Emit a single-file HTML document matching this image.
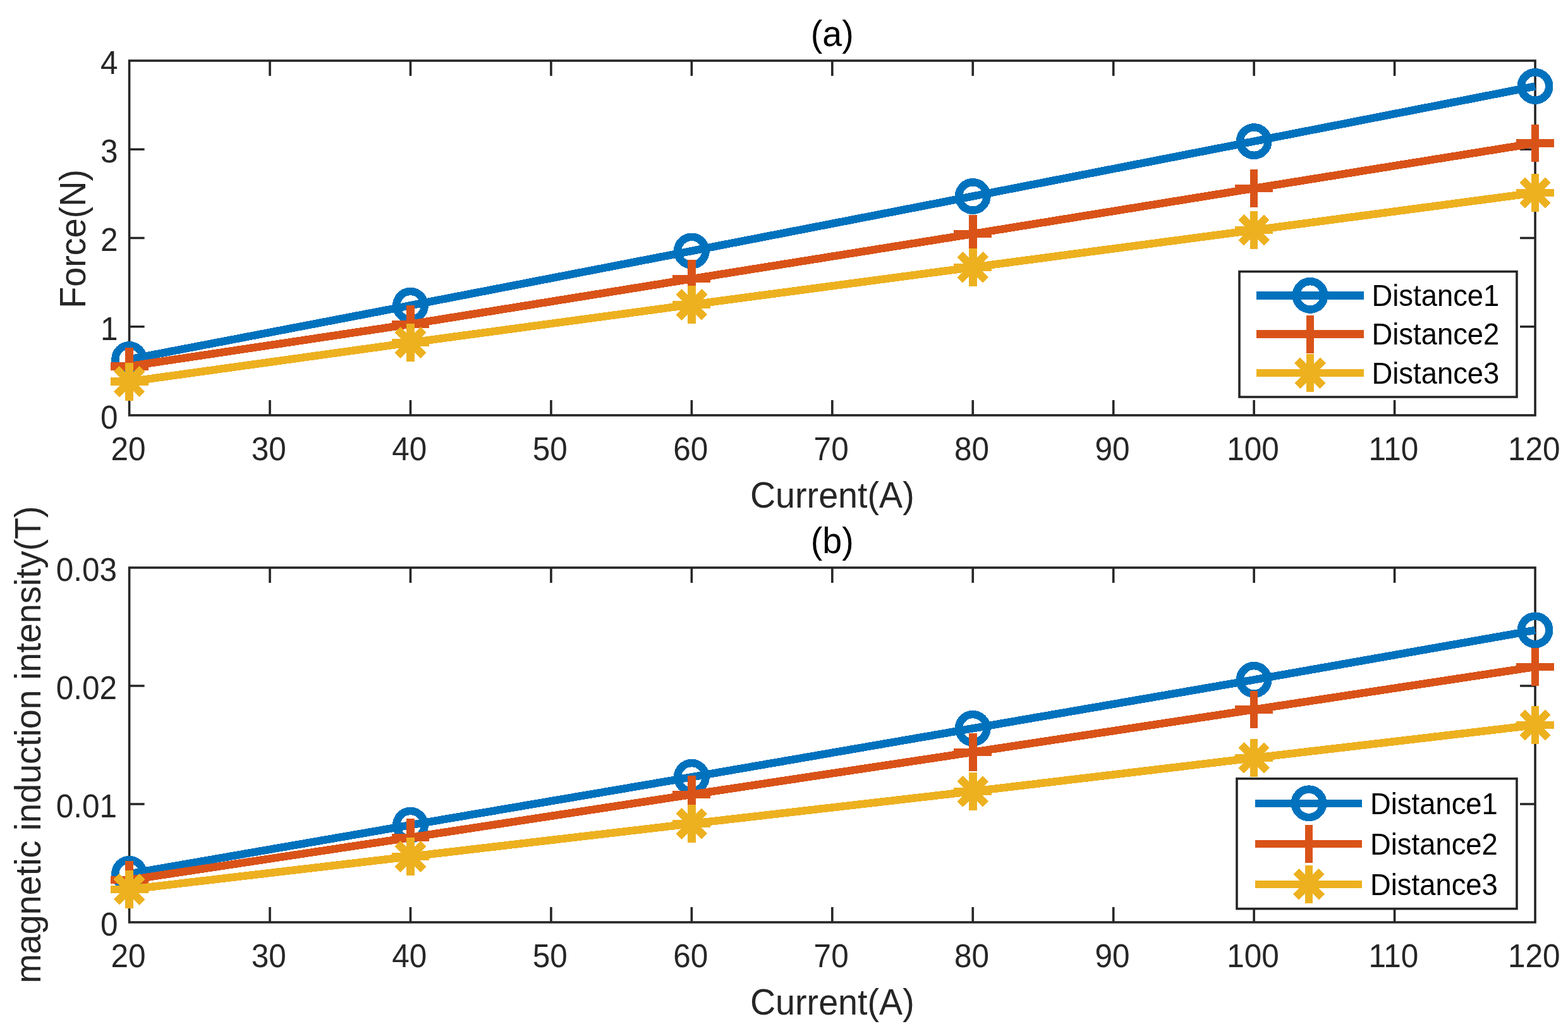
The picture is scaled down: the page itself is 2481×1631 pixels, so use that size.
<!DOCTYPE html>
<html><head><meta charset="utf-8"><title>Force and magnetic induction vs current</title>
<style>html,body{margin:0;padding:0;background:#fff}svg{display:block}</style></head>
<body>
<svg width="2481" height="1631" viewBox="0 0 2481 1631">
<rect width="2481" height="1631" fill="#fff"/>
<g font-family="'Liberation Sans', Arial, Helvetica, sans-serif">
<rect x="204.6" y="96" width="2224.45" height="560.95" fill="none" stroke="#262626" stroke-width="3.6"/>
<path d="M427.05 656.95V632.95M427.05 96V120M649.49 656.95V632.95M649.49 96V120M871.94 656.95V632.95M871.94 96V120M1094.38 656.95V632.95M1094.38 96V120M1316.83 656.95V632.95M1316.83 96V120M1539.27 656.95V632.95M1539.27 96V120M1761.72 656.95V632.95M1761.72 96V120M1984.16 656.95V632.95M1984.16 96V120M2206.61 656.95V632.95M2206.61 96V120M204.6 516.71H228.6M2429.05 516.71H2405.05M204.6 376.48H228.6M2429.05 376.48H2405.05M204.6 236.24H228.6M2429.05 236.24H2405.05" stroke="#262626" stroke-width="3.6" fill="none"/>
<text transform="translate(202.9 727.9) scale(1 1.05)" text-anchor="middle" font-size="49.5" fill="#262626">20</text>
<text transform="translate(425.35 727.9) scale(1 1.05)" text-anchor="middle" font-size="49.5" fill="#262626">30</text>
<text transform="translate(647.79 727.9) scale(1 1.05)" text-anchor="middle" font-size="49.5" fill="#262626">40</text>
<text transform="translate(870.24 727.9) scale(1 1.05)" text-anchor="middle" font-size="49.5" fill="#262626">50</text>
<text transform="translate(1092.68 727.9) scale(1 1.05)" text-anchor="middle" font-size="49.5" fill="#262626">60</text>
<text transform="translate(1315.12 727.9) scale(1 1.05)" text-anchor="middle" font-size="49.5" fill="#262626">70</text>
<text transform="translate(1537.57 727.9) scale(1 1.05)" text-anchor="middle" font-size="49.5" fill="#262626">80</text>
<text transform="translate(1760.02 727.9) scale(1 1.05)" text-anchor="middle" font-size="49.5" fill="#262626">90</text>
<text transform="translate(1982.46 727.9) scale(1 1.05)" text-anchor="middle" font-size="49.5" fill="#262626">100</text>
<text transform="translate(2204.91 727.9) scale(1 1.05)" text-anchor="middle" font-size="49.5" fill="#262626">110</text>
<text transform="translate(2427.35 727.9) scale(1 1.05)" text-anchor="middle" font-size="49.5" fill="#262626">120</text>
<text transform="translate(186.5 677.75) scale(1 1.05)" text-anchor="end" font-size="49.5" fill="#262626">0</text>
<text transform="translate(186.5 537.51) scale(1 1.05)" text-anchor="end" font-size="49.5" fill="#262626">1</text>
<text transform="translate(186.5 397.28) scale(1 1.05)" text-anchor="end" font-size="49.5" fill="#262626">2</text>
<text transform="translate(186.5 257.04) scale(1 1.05)" text-anchor="end" font-size="49.5" fill="#262626">3</text>
<text transform="translate(186.5 116.8) scale(1 1.05)" text-anchor="end" font-size="49.5" fill="#262626">4</text>
<text transform="translate(1316.83 803) scale(1 1.04)" text-anchor="middle" font-size="55.7" fill="#262626">Current(A)</text>
<text transform="translate(135 377.9) rotate(-90) scale(1 1.04)" text-anchor="middle" font-size="55.7" fill="#262626">Force(N)</text>
<text transform="translate(1316.83 73.1) scale(1 1.02)" text-anchor="middle" font-size="55.6" fill="#000">(a)</text>
<polyline points="204.6,568.5 649.49,483.2 1094.38,397 1539.27,310.5 1984.16,223.6 2429.05,136.5" fill="none" stroke="#0072BD" stroke-width="12.5" stroke-linejoin="round" shape-rendering="crispEdges"/>
<circle cx="204.6" cy="568.5" r="22.2" fill="none" stroke="#0072BD" stroke-width="12.5" shape-rendering="crispEdges"/>
<circle cx="649.49" cy="483.2" r="22.2" fill="none" stroke="#0072BD" stroke-width="12.5" shape-rendering="crispEdges"/>
<circle cx="1094.38" cy="397" r="22.2" fill="none" stroke="#0072BD" stroke-width="12.5" shape-rendering="crispEdges"/>
<circle cx="1539.27" cy="310.5" r="22.2" fill="none" stroke="#0072BD" stroke-width="12.5" shape-rendering="crispEdges"/>
<circle cx="1984.16" cy="223.6" r="22.2" fill="none" stroke="#0072BD" stroke-width="12.5" shape-rendering="crispEdges"/>
<circle cx="2429.05" cy="136.5" r="22.2" fill="none" stroke="#0072BD" stroke-width="12.5" shape-rendering="crispEdges"/>
<polyline points="204.6,579.4 649.49,512.8 1094.38,441.2 1539.27,370 1984.16,298 2429.05,226.5" fill="none" stroke="#D95319" stroke-width="12.5" stroke-linejoin="round" shape-rendering="crispEdges"/>
<path d="M174.7 579.4H234.5M204.6 549.5V609.3" fill="none" stroke="#D95319" stroke-width="12.5" shape-rendering="crispEdges"/>
<path d="M619.59 512.8H679.39M649.49 482.9V542.7" fill="none" stroke="#D95319" stroke-width="12.5" shape-rendering="crispEdges"/>
<path d="M1064.48 441.2H1124.28M1094.38 411.3V471.1" fill="none" stroke="#D95319" stroke-width="12.5" shape-rendering="crispEdges"/>
<path d="M1509.37 370H1569.17M1539.27 340.1V399.9" fill="none" stroke="#D95319" stroke-width="12.5" shape-rendering="crispEdges"/>
<path d="M1954.26 298H2014.06M1984.16 268.1V327.9" fill="none" stroke="#D95319" stroke-width="12.5" shape-rendering="crispEdges"/>
<path d="M2399.15 226.5H2458.95M2429.05 196.6V256.4" fill="none" stroke="#D95319" stroke-width="12.5" shape-rendering="crispEdges"/>
<polyline points="204.6,603.7 649.49,542 1094.38,481.9 1539.27,422.8 1984.16,364 2429.05,305" fill="none" stroke="#EDB120" stroke-width="12.5" stroke-linejoin="round" shape-rendering="crispEdges"/>
<path d="M174.7 603.7H234.5M204.6 573.8V633.6M184.3 583.4L224.9 624M184.3 624L224.9 583.4" fill="none" stroke="#EDB120" stroke-width="12.5" shape-rendering="crispEdges"/>
<path d="M619.59 542H679.39M649.49 512.1V571.9M629.19 521.7L669.79 562.3M629.19 562.3L669.79 521.7" fill="none" stroke="#EDB120" stroke-width="12.5" shape-rendering="crispEdges"/>
<path d="M1064.48 481.9H1124.28M1094.38 452V511.8M1074.08 461.6L1114.68 502.2M1074.08 502.2L1114.68 461.6" fill="none" stroke="#EDB120" stroke-width="12.5" shape-rendering="crispEdges"/>
<path d="M1509.37 422.8H1569.17M1539.27 392.9V452.7M1518.97 402.5L1559.57 443.1M1518.97 443.1L1559.57 402.5" fill="none" stroke="#EDB120" stroke-width="12.5" shape-rendering="crispEdges"/>
<path d="M1954.26 364H2014.06M1984.16 334.1V393.9M1963.86 343.7L2004.46 384.3M1963.86 384.3L2004.46 343.7" fill="none" stroke="#EDB120" stroke-width="12.5" shape-rendering="crispEdges"/>
<path d="M2399.15 305H2458.95M2429.05 275.1V334.9M2408.75 284.7L2449.35 325.3M2408.75 325.3L2449.35 284.7" fill="none" stroke="#EDB120" stroke-width="12.5" shape-rendering="crispEdges"/>
<rect x="1961" y="429.6" width="439" height="198.4" fill="#fff" stroke="#262626" stroke-width="3.6"/>
<path d="M1988 467.4H2158" stroke="#0072BD" stroke-width="12.5" shape-rendering="crispEdges"/>
<circle cx="2073" cy="467.4" r="22.2" fill="none" stroke="#0072BD" stroke-width="12.5" shape-rendering="crispEdges"/>
<text transform="translate(2170.5 484) scale(1 1.04)" font-size="45.4" fill="#000">Distance1</text>
<path d="M1988 528.6H2158" stroke="#D95319" stroke-width="12.5" shape-rendering="crispEdges"/>
<path d="M2043.1 528.6H2102.9M2073 498.7V558.5" fill="none" stroke="#D95319" stroke-width="12.5" shape-rendering="crispEdges"/>
<text transform="translate(2170.5 545) scale(1 1.04)" font-size="45.4" fill="#000">Distance2</text>
<path d="M1988 590.2H2158" stroke="#EDB120" stroke-width="12.5" shape-rendering="crispEdges"/>
<path d="M2043.1 590.2H2102.9M2073 560.3V620.1M2052.7 569.9L2093.3 610.5M2052.7 610.5L2093.3 569.9" fill="none" stroke="#EDB120" stroke-width="12.5" shape-rendering="crispEdges"/>
<text transform="translate(2170.5 607) scale(1 1.04)" font-size="45.4" fill="#000">Distance3</text>
<rect x="204.6" y="898" width="2224.45" height="561" fill="none" stroke="#262626" stroke-width="3.6"/>
<path d="M427.05 1459V1435M427.05 898V922M649.49 1459V1435M649.49 898V922M871.94 1459V1435M871.94 898V922M1094.38 1459V1435M1094.38 898V922M1316.83 1459V1435M1316.83 898V922M1539.27 1459V1435M1539.27 898V922M1761.72 1459V1435M1761.72 898V922M1984.16 1459V1435M1984.16 898V922M2206.61 1459V1435M2206.61 898V922M204.6 1272H228.6M2429.05 1272H2405.05M204.6 1085H228.6M2429.05 1085H2405.05" stroke="#262626" stroke-width="3.6" fill="none"/>
<text transform="translate(202.9 1529.95) scale(1 1.05)" text-anchor="middle" font-size="49.5" fill="#262626">20</text>
<text transform="translate(425.35 1529.95) scale(1 1.05)" text-anchor="middle" font-size="49.5" fill="#262626">30</text>
<text transform="translate(647.79 1529.95) scale(1 1.05)" text-anchor="middle" font-size="49.5" fill="#262626">40</text>
<text transform="translate(870.24 1529.95) scale(1 1.05)" text-anchor="middle" font-size="49.5" fill="#262626">50</text>
<text transform="translate(1092.68 1529.95) scale(1 1.05)" text-anchor="middle" font-size="49.5" fill="#262626">60</text>
<text transform="translate(1315.12 1529.95) scale(1 1.05)" text-anchor="middle" font-size="49.5" fill="#262626">70</text>
<text transform="translate(1537.57 1529.95) scale(1 1.05)" text-anchor="middle" font-size="49.5" fill="#262626">80</text>
<text transform="translate(1760.02 1529.95) scale(1 1.05)" text-anchor="middle" font-size="49.5" fill="#262626">90</text>
<text transform="translate(1982.46 1529.95) scale(1 1.05)" text-anchor="middle" font-size="49.5" fill="#262626">100</text>
<text transform="translate(2204.91 1529.95) scale(1 1.05)" text-anchor="middle" font-size="49.5" fill="#262626">110</text>
<text transform="translate(2427.35 1529.95) scale(1 1.05)" text-anchor="middle" font-size="49.5" fill="#262626">120</text>
<text transform="translate(186.5 1479.8) scale(1 1.05)" text-anchor="end" font-size="49.5" fill="#262626">0</text>
<text transform="translate(185 1292.8) scale(1 1.05)" text-anchor="end" font-size="49.5" fill="#262626">0.01</text>
<text transform="translate(185 1105.8) scale(1 1.05)" text-anchor="end" font-size="49.5" fill="#262626">0.02</text>
<text transform="translate(185 918.8) scale(1 1.05)" text-anchor="end" font-size="49.5" fill="#262626">0.03</text>
<text transform="translate(1316.83 1605) scale(1 1.04)" text-anchor="middle" font-size="55.7" fill="#262626">Current(A)</text>
<text transform="translate(63.9 1178) rotate(-90) scale(1 1.04)" text-anchor="middle" font-size="55.7" fill="#262626">magnetic induction intensity(T)</text>
<text transform="translate(1316.83 875.1) scale(1 1.02)" text-anchor="middle" font-size="55.6" fill="#000">(b)</text>
<polyline points="204.6,1382.4 649.49,1305.2 1094.38,1229.3 1539.27,1152.3 1984.16,1075.4 2429.05,996.9" fill="none" stroke="#0072BD" stroke-width="12.5" stroke-linejoin="round" shape-rendering="crispEdges"/>
<circle cx="204.6" cy="1382.4" r="22.2" fill="none" stroke="#0072BD" stroke-width="12.5" shape-rendering="crispEdges"/>
<circle cx="649.49" cy="1305.2" r="22.2" fill="none" stroke="#0072BD" stroke-width="12.5" shape-rendering="crispEdges"/>
<circle cx="1094.38" cy="1229.3" r="22.2" fill="none" stroke="#0072BD" stroke-width="12.5" shape-rendering="crispEdges"/>
<circle cx="1539.27" cy="1152.3" r="22.2" fill="none" stroke="#0072BD" stroke-width="12.5" shape-rendering="crispEdges"/>
<circle cx="1984.16" cy="1075.4" r="22.2" fill="none" stroke="#0072BD" stroke-width="12.5" shape-rendering="crispEdges"/>
<circle cx="2429.05" cy="996.9" r="22.2" fill="none" stroke="#0072BD" stroke-width="12.5" shape-rendering="crispEdges"/>
<polyline points="204.6,1392 649.49,1324.9 1094.38,1256.9 1539.27,1189.9 1984.16,1122.5 2429.05,1054.9" fill="none" stroke="#D95319" stroke-width="12.5" stroke-linejoin="round" shape-rendering="crispEdges"/>
<path d="M174.7 1392H234.5M204.6 1362.1V1421.9" fill="none" stroke="#D95319" stroke-width="12.5" shape-rendering="crispEdges"/>
<path d="M619.59 1324.9H679.39M649.49 1295V1354.8" fill="none" stroke="#D95319" stroke-width="12.5" shape-rendering="crispEdges"/>
<path d="M1064.48 1256.9H1124.28M1094.38 1227V1286.8" fill="none" stroke="#D95319" stroke-width="12.5" shape-rendering="crispEdges"/>
<path d="M1509.37 1189.9H1569.17M1539.27 1160V1219.8" fill="none" stroke="#D95319" stroke-width="12.5" shape-rendering="crispEdges"/>
<path d="M1954.26 1122.5H2014.06M1984.16 1092.6V1152.4" fill="none" stroke="#D95319" stroke-width="12.5" shape-rendering="crispEdges"/>
<path d="M2399.15 1054.9H2458.95M2429.05 1025V1084.8" fill="none" stroke="#D95319" stroke-width="12.5" shape-rendering="crispEdges"/>
<polyline points="204.6,1407 649.49,1355 1094.38,1303 1539.27,1251.9 1984.16,1199 2429.05,1147" fill="none" stroke="#EDB120" stroke-width="12.5" stroke-linejoin="round" shape-rendering="crispEdges"/>
<path d="M174.7 1407H234.5M204.6 1377.1V1436.9M184.3 1386.7L224.9 1427.3M184.3 1427.3L224.9 1386.7" fill="none" stroke="#EDB120" stroke-width="12.5" shape-rendering="crispEdges"/>
<path d="M619.59 1355H679.39M649.49 1325.1V1384.9M629.19 1334.7L669.79 1375.3M629.19 1375.3L669.79 1334.7" fill="none" stroke="#EDB120" stroke-width="12.5" shape-rendering="crispEdges"/>
<path d="M1064.48 1303H1124.28M1094.38 1273.1V1332.9M1074.08 1282.7L1114.68 1323.3M1074.08 1323.3L1114.68 1282.7" fill="none" stroke="#EDB120" stroke-width="12.5" shape-rendering="crispEdges"/>
<path d="M1509.37 1251.9H1569.17M1539.27 1222V1281.8M1518.97 1231.6L1559.57 1272.2M1518.97 1272.2L1559.57 1231.6" fill="none" stroke="#EDB120" stroke-width="12.5" shape-rendering="crispEdges"/>
<path d="M1954.26 1199H2014.06M1984.16 1169.1V1228.9M1963.86 1178.7L2004.46 1219.3M1963.86 1219.3L2004.46 1178.7" fill="none" stroke="#EDB120" stroke-width="12.5" shape-rendering="crispEdges"/>
<path d="M2399.15 1147H2458.95M2429.05 1117.1V1176.9M2408.75 1126.7L2449.35 1167.3M2408.75 1167.3L2449.35 1126.7" fill="none" stroke="#EDB120" stroke-width="12.5" shape-rendering="crispEdges"/>
<rect x="1957" y="1231.8" width="443" height="205.8" fill="#fff" stroke="#262626" stroke-width="3.6"/>
<path d="M1986 1270.8H2155" stroke="#0072BD" stroke-width="12.5" shape-rendering="crispEdges"/>
<circle cx="2071" cy="1270.8" r="22.2" fill="none" stroke="#0072BD" stroke-width="12.5" shape-rendering="crispEdges"/>
<text transform="translate(2168 1287.5) scale(1 1.04)" font-size="45.4" fill="#000">Distance1</text>
<path d="M1986 1335H2155" stroke="#D95319" stroke-width="12.5" shape-rendering="crispEdges"/>
<path d="M2041.1 1335H2100.9M2071 1305.1V1364.9" fill="none" stroke="#D95319" stroke-width="12.5" shape-rendering="crispEdges"/>
<text transform="translate(2168 1351.7) scale(1 1.04)" font-size="45.4" fill="#000">Distance2</text>
<path d="M1986 1398.8H2155" stroke="#EDB120" stroke-width="12.5" shape-rendering="crispEdges"/>
<path d="M2041.1 1398.8H2100.9M2071 1368.9V1428.7M2050.7 1378.5L2091.3 1419.1M2050.7 1419.1L2091.3 1378.5" fill="none" stroke="#EDB120" stroke-width="12.5" shape-rendering="crispEdges"/>
<text transform="translate(2168 1415.5) scale(1 1.04)" font-size="45.4" fill="#000">Distance3</text>
</g>
</svg>
</body></html>
